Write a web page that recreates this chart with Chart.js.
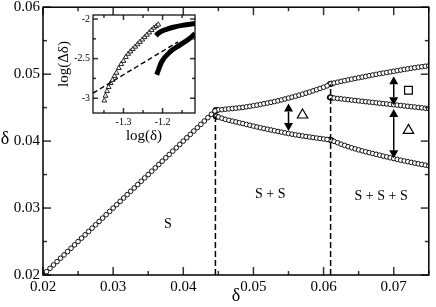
<!DOCTYPE html>
<html>
<head>
<meta charset="utf-8">
<script src="https://cdn.jsdelivr.net/npm/chart.js@4.4.0/dist/chart.umd.min.js"></script>
<style>
  body{margin:0;background:#fff}
  #wrap{position:relative;width:436px;height:307px}
  #inset{position:absolute;left:55px;top:10px}
</style>
</head>
<body>
<div id="wrap">
  <canvas id="main" width="436" height="307"></canvas>
  <canvas id="inset" width="145" height="135"></canvas>
</div>
<script>
// ---- main plot data ----
const diagDelta = [0.0200,0.0205,0.0210,0.0215,0.0220,0.0225,0.0230,0.0235,0.0240,0.0245,
  0.0250,0.0255,0.0260,0.0265,0.0270,0.0275,0.0280,0.0285,0.0290,0.0295,
  0.0300,0.0305,0.0310,0.0315,0.0320,0.0325,0.0330,0.0335,0.0340,0.0345,
  0.0350,0.0355,0.0360,0.0365,0.0370,0.0375,0.0380,0.0385,0.0390,0.0395,
  0.0400,0.0405,0.0410,0.0415,0.0420,0.0425,0.0430,0.0435,0.0440,0.0445];

const branch1X = [0.0447,0.0450,0.0455,0.0460,0.0465,0.0470,0.0475,0.0480,0.0485,0.0490,0.0495,
  0.0500,0.0505,0.0510,0.0515,0.0520,0.0525,0.0530,0.0535,0.0540,0.0545,
  0.0550,0.0555,0.0560,0.0565,0.0570,0.0575,0.0580,0.0585,0.0590,0.0595,0.0600,0.0605];
const upper1 = [0.04464,0.04466,0.04470,0.04476,0.04481,0.04486,0.04492,0.04498,0.04504,0.04512,0.04520,
  0.04529,0.04538,0.04548,0.04558,0.04568,0.04579,0.04590,0.04602,0.04615,0.04629,
  0.04643,0.04657,0.04671,0.04686,0.04701,0.04717,0.04733,0.04750,0.04768,0.04786,0.04805,0.04825];
const lower1 = [0.04370,0.04360,0.04342,0.04325,0.04311,0.04298,0.04286,0.04274,0.04262,0.04249,0.04237,
  0.04224,0.04211,0.04199,0.04188,0.04177,0.04166,0.04155,0.04144,0.04134,0.04123,
  0.04113,0.04103,0.04094,0.04086,0.04077,0.04069,0.04061,0.04053,0.04046,0.04039,0.04032,0.04025];

const branch2X = [0.0610,0.0615,0.0620,0.0625,0.0630,0.0635,0.0640,0.0645,0.0650,0.0655,
  0.0660,0.0665,0.0670,0.0675,0.0680,0.0685,0.0690,0.0695,0.0700,0.0705,
  0.0710,0.0715,0.0720,0.0725,0.0730,0.0735,0.0740,0.0745,0.0750];
const upper2 = [0.04855,0.04868,0.04880,0.04892,0.04903,0.04914,0.04925,0.04935,0.04946,0.04956,
  0.04966,0.04977,0.04987,0.04997,0.05007,0.05016,0.05025,0.05034,0.05043,0.05052,
  0.05061,0.05070,0.05079,0.05088,0.05096,0.05104,0.05111,0.05118,0.05125];
const middle2 = [0.04650,0.04643,0.04637,0.04631,0.04625,0.04619,0.04613,0.04607,0.04601,0.04595,
  0.04589,0.04583,0.04578,0.04572,0.04566,0.04560,0.04555,0.04549,0.04543,0.04537,
  0.04532,0.04526,0.04520,0.04514,0.04509,0.04503,0.04497,0.04491,0.04486];
const lower2 = [0.04018,0.03996,0.03975,0.03954,0.03935,0.03917,0.03900,0.03884,0.03869,0.03855,
  0.03841,0.03828,0.03815,0.03802,0.03789,0.03776,0.03764,0.03751,0.03739,0.03727,
  0.03715,0.03704,0.03693,0.03682,0.03671,0.03661,0.03651,0.03641,0.03631];

const junctionX = [0.0446,0.0448,0.0446,0.0448,0.0609,0.0611,0.0609,0.0611,0.0609,0.0611];
const junctionY = [0.04463,0.04465,0.04372,0.04365,0.04852,0.04857,0.04652,0.04648,0.04022,0.04014];

const dashX = [0.04458, 0.0610];
const dashTop = [0.0437, 0.0485];

const arrowX = [0.0550, 0.0700, 0.0700];
const arrowTop = [0.0456, 0.0497, 0.04478];
const arrowBottom = [0.0415, 0.04537, 0.03742];

const triLabelX = [0.0570, 0.0721];
const triLabelY = [0.0439, 0.0416];
const sqLabelX = [0.0721];
const sqLabelY = [0.0476];

const regionText = ['S', 'S + S', 'S + S + S'];
const regionX = [0.0378, 0.0524, 0.0682];
const regionY = [0.0276, 0.0320, 0.0317];

const xTickValues = [0.02,0.03,0.04,0.05,0.06,0.07];
const xTickLabels = ['0.02','0.03','0.04','0.05','0.06','0.07'];
const xMinorTicks = [0.025,0.035,0.045,0.055,0.065,0.075];
const yTickValues = [0.02,0.03,0.04,0.05,0.06];
const yTickLabels = ['0.02','0.03','0.04','0.05','0.06'];
const yMinorTicks = [0.025,0.035,0.045,0.055];

// ---- inset data ----
const triX = [-1.349,-1.346,-1.342,-1.338,-1.333,-1.328,-1.323,-1.318,-1.312,-1.306,-1.300,-1.294,-1.288,
  -1.282,-1.276,-1.270,-1.264,-1.258,-1.252,-1.246,-1.240,-1.234,-1.228,-1.222,-1.216,-1.211];
const triY = [-3.03,-2.97,-2.91,-2.86,-2.81,-2.77,-2.72,-2.68,-2.62,-2.57,-2.53,-2.48,-2.44,
  -2.41,-2.38,-2.35,-2.32,-2.29,-2.26,-2.23,-2.20,-2.17,-2.14,-2.11,-2.09,-2.07];
const topCurveX = [-1.217,-1.212,-1.205,-1.190,-1.170,-1.150,-1.130,-1.117];
const topCurveY = [-2.21,-2.185,-2.16,-2.13,-2.10,-2.08,-2.065,-2.056];
const lowCurveX = [-1.215,-1.2025,-1.181,-1.156,-1.131,-1.117];
const lowCurveY = [-2.704,-2.543,-2.415,-2.33,-2.246,-2.183];
const fitX = [-1.378, -1.1604];
const fitY = [-2.936, -2.288];

const insetXTicks = [-1.3,-1.2];
const insetXLabels = ['-1.3','-1.2'];
const insetXMinor = [-1.35,-1.25,-1.15];
const insetYTicks = [-3,-2.5,-2];
const insetYLabels = ['-3','-2.5','-2'];
const insetYMinor = [-2.75,-2.25];

Chart.defaults.font.family = "'Liberation Serif', 'DejaVu Serif', serif";
Chart.defaults.color = '#000';

const pts = (xs, ys) => xs.map((x, i) => ({x, y: ys[i]}));

function openCircles(xs, ys){
  return {data: pts(xs, ys), pointStyle:'circle', pointRadius:2.3, pointBorderWidth:1,
    pointBorderColor:'#111', pointBackgroundColor:'#fff', showLine:false};
}

// inward ticks on all four sides plus the box
function frameTicks(id, o){
  return {
    id,
    afterDraw(chart){
      const {ctx, chartArea:{left, right, top, bottom}, scales:{x, y}} = chart;
      ctx.save();
      ctx.strokeStyle = '#333';
      ctx.lineWidth = 1.5;
      const seg = (x1, y1, x2, y2) => { ctx.beginPath(); ctx.moveTo(x1, y1); ctx.lineTo(x2, y2); ctx.stroke(); };
      const tx = (vals, len) => vals.forEach(v => {
        const p = x.getPixelForValue(v);
        seg(p, bottom, p, bottom - len);
        seg(p, top, p, top + len);
      });
      const ty = (vals, len) => vals.forEach(v => {
        const p = y.getPixelForValue(v);
        seg(left, p, left + len, p);
        seg(right, p, right - len, p);
      });
      tx(o.xMajor, o.major); tx(o.xMinor, o.minor);
      ty(o.yMajor, o.major); ty(o.yMinor, o.minor);
      ctx.strokeStyle = '#000';
      ctx.lineWidth = o.frame;
      ctx.strokeRect(left, top, right - left, bottom - top);
      ctx.restore();
    }
  };
}

const mainExtras = {
  id:'mainExtras',
  afterDatasetsDraw(chart){
    const {ctx, scales:{x, y}} = chart;
    ctx.save();
    ctx.fillStyle = '#000';
    ctx.strokeStyle = '#000';
    ctx.lineWidth = 1.5;
    arrowX.forEach((ax, i) => {
      const px = x.getPixelForValue(ax);
      const p1 = y.getPixelForValue(arrowTop[i]);
      const p2 = y.getPixelForValue(arrowBottom[i]);
      const hl = 8, hw = 4.5;
      ctx.beginPath(); ctx.moveTo(px, p1 + hl); ctx.lineTo(px, p2 - hl); ctx.stroke();
      ctx.beginPath(); ctx.moveTo(px, p1); ctx.lineTo(px - hw, p1 + hl); ctx.lineTo(px + hw, p1 + hl); ctx.closePath(); ctx.fill();
      ctx.beginPath(); ctx.moveTo(px, p2); ctx.lineTo(px - hw, p2 - hl); ctx.lineTo(px + hw, p2 - hl); ctx.closePath(); ctx.fill();
    });
    ctx.font = "14px 'Liberation Serif', serif";
    ctx.textAlign = 'center';
    ctx.textBaseline = 'middle';
    regionText.forEach((t, i) => ctx.fillText(t, x.getPixelForValue(regionX[i]), y.getPixelForValue(regionY[i])));
    ctx.font = "18px 'Liberation Serif', serif";
    ctx.fillText('δ', 5, 139);
    ctx.restore();
  }
};

const insetBg = {
  id:'insetBg',
  beforeDatasetsDraw(chart){
    const {ctx, chartArea:{left, top, width, height}} = chart;
    ctx.save(); ctx.fillStyle = '#fff'; ctx.fillRect(left, top, width, height); ctx.restore();
  }
};

const noPad = s => { s.paddingTop = 0; s.paddingBottom = 0; s.paddingLeft = 0; s.paddingRight = 0; };
const noGrid = {display:false, drawTicks:false};

new Chart(document.getElementById('main'), {
  type:'scatter',
  data:{datasets:[
    {data:[{x:dashX[0], y:0.02},{x:dashX[0], y:dashTop[0]}], showLine:true, pointRadius:0,
     borderColor:'#000', borderWidth:1.5, borderDash:[6,3]},
    {data:[{x:dashX[1], y:0.02},{x:dashX[1], y:dashTop[1]}], showLine:true, pointRadius:0,
     borderColor:'#000', borderWidth:1.5, borderDash:[6,3]},
    openCircles(diagDelta, diagDelta),
    openCircles(branch1X, upper1),
    openCircles(branch1X, lower1),
    openCircles(branch2X, upper2),
    openCircles(branch2X, middle2),
    openCircles(branch2X, lower2),
    {data:pts(junctionX, junctionY), pointStyle:'circle', pointRadius:2.6, pointBorderWidth:1,
     pointBorderColor:'#000', pointBackgroundColor:'#000'},
    {data:pts(triLabelX, triLabelY), pointStyle:'triangle', pointRadius:6, pointBorderWidth:1.2,
     pointBorderColor:'#000', pointBackgroundColor:'#fff'},
    {data:pts(sqLabelX, sqLabelY), pointStyle:'rect', pointRadius:5.5, pointBorderWidth:1.2,
     pointBorderColor:'#000', pointBackgroundColor:'#fff'}
  ]},
  options:{
    responsive:false, animation:false, devicePixelRatio:1,
    layout:{padding:{left:0, right:2, top:7, bottom:0}},
    plugins:{legend:{display:false}, tooltip:{enabled:false}},
    scales:{
      x:{type:'linear', min:0.02, max:0.075,
        grid:noGrid, border:{display:false},
        ticks:{font:{size:15}, padding:3, maxRotation:0, autoSkip:false, callback:(v, i) => xTickLabels[i]},
        afterBuildTicks:s => { s.ticks = xTickValues.map(v => ({value:v})); },
        afterFit:s => { s.height = 32; noPad(s); },
        title:{display:true, text:'δ', font:{size:18}, padding:0}},
      y:{type:'linear', min:0.02, max:0.06,
        grid:noGrid, border:{display:false},
        ticks:{font:{size:15}, padding:3, autoSkip:false, callback:(v, i) => yTickLabels[i]},
        afterBuildTicks:s => { s.ticks = yTickValues.map(v => ({value:v})); },
        afterFit:s => { s.width = 43; noPad(s); }}
    }
  },
  plugins:[frameTicks('mainTicks', {xMajor:xTickValues, xMinor:xMinorTicks, yMajor:yTickValues, yMinor:yMinorTicks, major:8, minor:4, frame:1.5}), mainExtras]
});

new Chart(document.getElementById('inset'), {
  type:'scatter',
  data:{datasets:[
    {data:pts(fitX, fitY), showLine:true, pointRadius:0, borderColor:'#000', borderWidth:1.4, borderDash:[5,3]},
    {data:pts(topCurveX, topCurveY), showLine:true, pointRadius:0, borderColor:'#000', borderWidth:5,
     cubicInterpolationMode:'monotone'},
    {data:pts(lowCurveX, lowCurveY), showLine:true, pointRadius:0, borderColor:'#000', borderWidth:5,
     cubicInterpolationMode:'monotone'},
    {data:pts(triX, triY), pointStyle:'triangle', pointRadius:2.8, pointBorderWidth:0.9,
     pointBorderColor:'#111', pointBackgroundColor:'#fff'}
  ]},
  options:{
    responsive:false, animation:false, devicePixelRatio:1,
    layout:{padding:{left:0, right:5, top:5, bottom:0}},
    plugins:{legend:{display:false}, tooltip:{enabled:false}},
    scales:{
      x:{type:'linear', min:-1.378, max:-1.117,
        grid:noGrid, border:{display:false},
        ticks:{font:{size:10}, padding:3, maxRotation:0, autoSkip:false, callback:(v, i) => insetXLabels[i]},
        afterBuildTicks:s => { s.ticks = insetXTicks.map(v => ({value:v})); },
        afterFit:s => { s.height = 32; noPad(s); },
        title:{display:true, text:'log(δ)', font:{size:15}, padding:0}},
      y:{type:'linear', min:-3.187, max:-1.949,
        grid:noGrid, border:{display:false},
        ticks:{font:{size:10}, padding:3, autoSkip:false, callback:(v, i) => insetYLabels[i]},
        afterBuildTicks:s => { s.ticks = insetYTicks.map(v => ({value:v})); },
        afterFit:s => { s.width = 38; noPad(s); },
        title:{display:true, text:'log(Δδ)', font:{size:15}, padding:0}}
    }
  },
  plugins:[insetBg, frameTicks('insetTicks', {xMajor:insetXTicks, xMinor:insetXMinor, yMajor:insetYTicks, yMinor:insetYMinor, major:5, minor:3, frame:1.2})]
});
</script>
</body>
</html>
